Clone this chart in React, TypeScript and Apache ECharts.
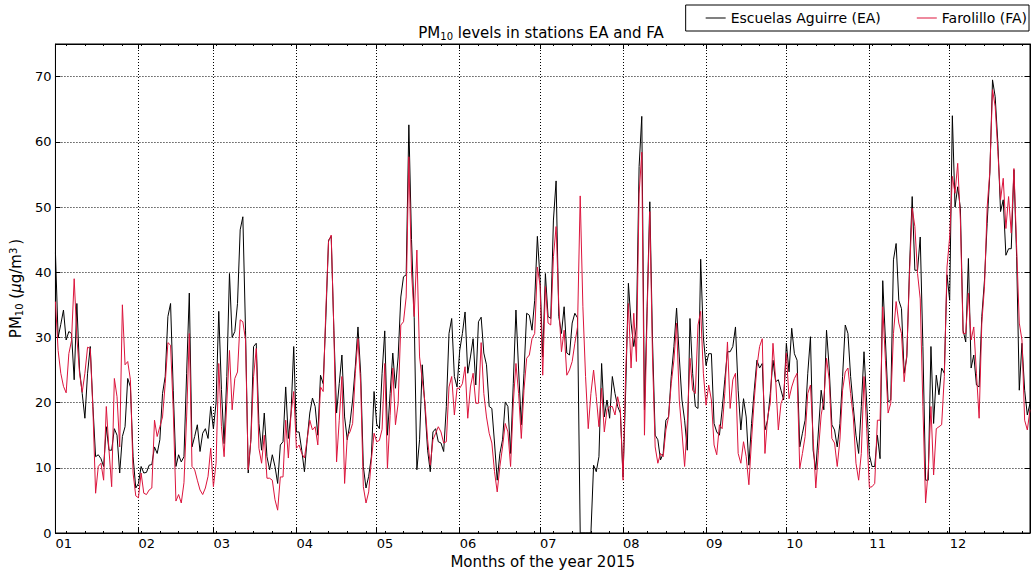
import React, { useEffect, useRef } from "react";
import * as echarts from "echarts";

// ---- data (daily PM10, µg/m3, year 2015) ----
const monthLabels = ["01", "02", "03", "04", "05", "06", "07", "08", "09", "10", "11", "12"];
const monthLengths = [31, 28, 31, 30, 31, 30, 31, 31, 30, 31, 30, 31];

const eaJan = [43, 30, 32, 34.2, 29.6, 30.9, 30.6, 23.5, 35.2, 25, 21.4, 17.6, 24.5, 28.6, 19.4, 11.7, 12, 11.4, 10.2, 16.3, 12.7, 12.7, 16, 15, 9.2, 14.8, 16.3, 23.7, 22.4, 11.7, 6.9];
const eaFeb = [7.6, 10.2, 9.2, 9.3, 10.4, 10.5, 13.2, 12.2, 14.3, 21.4, 24, 33.2, 35.2, 21.9, 10.2, 12, 10.9, 11.7, 24.5, 36.8, 13.2, 14.8, 16.6, 12.5, 15.3, 16, 14.5, 19.4];
const eaMar = [16, 20, 34, 22, 13.7, 24, 39.8, 30, 30.9, 35.2, 46.5, 48.5, 31, 9.2, 14.3, 28.6, 29.1, 16.8, 12.7, 18.4, 11.7, 9.7, 12, 10.2, 7.6, 13.5, 14, 22.4, 14.5, 18.4, 28.6];
const eaApr = [15.5, 15.5, 12.7, 9.4, 14.3, 18.4, 20.7, 19.4, 15, 24.2, 22.9, 33, 44.9, 45.5, 31, 18.4, 22.9, 27.3, 17.8, 14.3, 16.8, 20.4, 25.5, 31.6, 24.5, 10.2, 6.9, 8.7, 11.7, 21.7];
const eaMay = [16.7, 16, 24.5, 31, 15, 21.4, 27.6, 22.2, 27, 36.2, 39.3, 39.6, 62.6, 45, 33, 9.7, 14.3, 25.8, 19.4, 12.7, 9.4, 15.5, 16, 14, 13.8, 12.5, 19.4, 30.6, 32.9, 24, 22.4];
const eaJun = [28, 30.6, 33.9, 24.5, 27, 29.8, 22.7, 32.4, 33.1, 27.6, 25.8, 19.4, 19.1, 13.8, 8.1, 12.2, 14.3, 20.1, 19.4, 12.2, 22.9, 34.2, 25, 16.6, 24.5, 33.7, 33.4, 31.1, 35.7, 45.5];
const eaJul = [39, 27, 39.8, 33.2, 32.9, 48, 54, 33.2, 30.6, 34.7, 27.6, 27.3, 32.2, 33.7, 33, 0, 0, 0, 0, 0, 10.4, 9.4, 11.7, 26, 17.8, 20.4, 17.6, 24, 21.4, 19.4, 18.4];
const eaAug = [8.6, 22, 38.3, 32.2, 28.6, 31.6, 56.2, 63.9, 18.9, 34.7, 50.8, 29.6, 15, 14.3, 11.2, 12.2, 17.3, 17.8, 24, 28.6, 34.5, 27, 20.4, 17.3, 12.7, 32.9, 24.5, 19.4, 19.1, 42, 30];
const eaSep = [25.7, 27.5, 27.5, 16.8, 15.5, 15, 18.9, 23.5, 27.8, 27.8, 28.6, 31.6, 21.9, 15.8, 20.6, 17.8, 10.4, 16.8, 21.9, 26.5, 25.3, 26, 15.8, 17.3, 21.4, 26.5, 23.2, 23.5, 21.9, 20.4];
const eaOct = [29.1, 24.7, 31.4, 27.5, 26.5, 13.2, 15.3, 17.3, 24.5, 30.1, 12.7, 9.7, 15.8, 21.9, 18.9, 31.1, 25.3, 16.6, 15.8, 13.2, 16.8, 24, 31.9, 30.6, 24, 19.4, 15, 12.2, 19.4, 27.8, 20];
const eaNov = [12, 10.2, 10.2, 15, 11.4, 38.7, 29.6, 20.1, 20.4, 41.9, 44.4, 35.7, 34.4, 24.5, 27, 40.8, 51.6, 40.3, 40.3, 45.4, 28.6, 8.1, 8.1, 28.6, 16.8, 24.2, 21.2, 25.3, 24.5, 39.6];
const eaDec = [35.7, 64, 50, 53.1, 49.8, 31.1, 29.3, 42.1, 25.3, 27.3, 22.7, 22.4, 33.2, 38.8, 47.5, 55.2, 69.5, 66.9, 59.8, 49.3, 51.1, 42.6, 43.6, 43.6, 55.7, 42.4, 21.9, 29.1, 21.9, 18.1, 19.9];

const faJan = [35.5, 28, 24.5, 22.5, 21.5, 27.5, 29.5, 39, 30, 24.5, 21.6, 24.5, 28.5, 28.3, 18.9, 6.1, 10.2, 10.7, 8.1, 19.4, 12.7, 7.1, 23.7, 20.9, 13.2, 35, 25.8, 26.3, 23.5, 9.2, 5.7];
const faFeb = [5.4, 9.2, 6.1, 5.9, 6.6, 6.9, 17.3, 14.8, 16.3, 17.8, 22.9, 29.2, 28.8, 18.9, 4.9, 5.9, 4.6, 7.7, 17.8, 30.6, 10.2, 9.7, 8.1, 6.6, 5.9, 6.9, 8.7, 13];
const faMar = [7.1, 10.7, 26, 16.3, 11.7, 20, 28, 18.9, 23.7, 24.7, 32.7, 32.4, 29.6, 9.7, 14.3, 24, 28.3, 13, 10.7, 15, 8.4, 8.4, 8.1, 5.1, 3.5, 8.6, 8.6, 17.3, 11.5, 18.4, 21.7];
const faApr = [13, 13.5, 12.2, 11.5, 14.3, 17.3, 15.8, 16.3, 13.5, 22.4, 21.7, 34.2, 44.7, 45.7, 31, 10.9, 17.3, 24, 7.6, 14.8, 15.5, 16.8, 24.5, 29.8, 22.9, 7.1, 4.6, 6.3, 11.2, 15.3];
const faMay = [14, 14.2, 15.9, 26, 9.9, 18, 25.3, 16.6, 19.9, 31.9, 32.4, 36.2, 57.7, 40, 33.2, 43.4, 27, 23.5, 20.1, 14.3, 10.4, 14.3, 15.3, 16.3, 15.5, 13.8, 14, 22.4, 24, 18.1, 22.2];
const faJun = [22.2, 22.9, 25.5, 17.6, 22.4, 24.5, 19.9, 19.9, 29.2, 21.4, 17.8, 15.3, 13.8, 9.4, 6.3, 10.2, 13.2, 16.8, 15.5, 10.2, 19.9, 26, 21.4, 14.5, 21.9, 26.8, 27.3, 29.8, 30.6, 40.8];
const faJul = [38, 24.2, 37.8, 32.2, 31.9, 42.4, 47, 35, 27.8, 31.1, 24.2, 25, 26.3, 29.1, 31.6, 51.7, 34.7, 24, 16, 21.4, 25, 20.9, 16.3, 22.2, 15.5, 18.9, 19.4, 19.4, 18.1, 20.9, 18.9];
const faAug = [8.1, 25, 35.2, 25.3, 33.7, 26.3, 52, 58.4, 15, 33.7, 49.3, 27, 13.2, 10.7, 12.2, 11.7, 15.8, 17.8, 22.9, 26.5, 32.2, 20.4, 15.5, 10.2, 16.8, 26.8, 21.9, 21.4, 31.9, 34, 24.5];
const faSep = [19.6, 22.7, 20.4, 13.5, 12, 16.6, 16, 21.4, 29.3, 19.1, 23.5, 24.5, 12.2, 10.7, 14, 11.7, 7.4, 14.3, 20.4, 25.5, 28.6, 29.8, 12.2, 17.8, 19.9, 29.1, 23.5, 15.8, 19.9, 20.9];
const faOct = [27.6, 20.6, 22.4, 23.7, 24.5, 9.9, 12.2, 14.8, 21.4, 22.7, 14.5, 6.9, 12.7, 18.1, 20.4, 26.8, 23.5, 14.5, 13.8, 10.2, 14.3, 21.9, 24.7, 25.3, 21.4, 17.8, 10.7, 8.1, 12.2, 24, 16];
const faNov = [7, 7.1, 7.6, 17.3, 17.3, 34.7, 26.5, 18.4, 19.9, 30.6, 35.5, 32.2, 30.6, 23.2, 27.5, 39.8, 49.8, 47, 39.8, 35.9, 19.4, 4.6, 9.7, 19.4, 8.9, 16, 16.3, 16.6, 24, 40.8];
const faDec = [45.4, 54.7, 52.1, 56.7, 48, 30.6, 30.6, 36.8, 29.6, 31.6, 24.5, 17.6, 32.2, 37.8, 50, 55.4, 68, 65.4, 58.5, 51.1, 54.4, 46.7, 51.6, 46, 55.9, 43.9, 32.2, 29.6, 17.3, 15.8, 18.9];

const eaValues = [eaJan, eaFeb, eaMar, eaApr, eaMay, eaJun, eaJul, eaAug, eaSep, eaOct, eaNov, eaDec].flat();
const faValues = [faJan, faFeb, faMar, faApr, faMay, faJun, faJul, faAug, faSep, faOct, faNov, faDec].flat();

// category days "2015-MM-DD"
const days: string[] = [];
const monthStartIdx = new Set<number>();
monthLengths.forEach((len, m) => {
  monthStartIdx.add(days.length);
  for (let d = 1; d <= len; d++) {
    days.push(`2015-${monthLabels[m]}-${String(d).padStart(2, "0")}`);
  }
});
// weekly minor ticks (Mondays: 2015-01-05 is index 4)
const isMonday = (i: number) => i % 7 === 4;

const FONT = "DejaVu Sans";
const RED = "#dc143c";
const LEGEND_LINE = "path://M0,0 L20,0 L20,1 L0,1 Z";

export default function App() {
  const ref = useRef<HTMLDivElement>(null);
  useEffect(() => {
    document.body.style.margin = "0";
    const chart = echarts.init(ref.current!, undefined, { renderer: "svg" });
    const subRich = {
      sub: { fontSize: 10, fontFamily: FONT, color: "#000", verticalAlign: "bottom" as const, padding: [6, 0, 0, 0] },
      sup: { fontSize: 10, fontFamily: FONT, color: "#000", verticalAlign: "top" as const, padding: [0, 3, 6, 0] },
      it: { fontSize: 15, fontFamily: FONT, fontStyle: "italic" as const, color: "#000" },
    };
    const majorTickFn = (i: number) => monthStartIdx.has(i);
    const minorTickFn = (i: number) => isMonday(i) && !monthStartIdx.has(i);
    chart.setOption({
      animation: false,
      backgroundColor: "#fff",
      title: {
        text: "PM{sub|10} levels in stations EA and FA",
        left: 541,
        textAlign: "center",
        top: 25,
        padding: 0,
        textStyle: { fontSize: 15, fontWeight: "normal", color: "#000", fontFamily: FONT, rich: subRich },
      },
      legend: {
        data: [
          { name: "Escuelas Aguirre (EA)", icon: LEGEND_LINE },
          { name: "Farolillo (FA)", icon: LEGEND_LINE },
        ],
        right: 3,
        top: 5,
        padding: [5, 2, 5, 20],
        itemWidth: 20,
        itemHeight: 1.2,
        itemGap: 36,
        borderColor: "#000",
        borderWidth: 1,
        borderRadius: 0,
        backgroundColor: "#fff",
        textStyle: { fontSize: 14, color: "#000", fontFamily: FONT, lineHeight: 16 },
      },
      grid: { left: 52, right: 2, top: 44, bottom: 42, show: true, borderColor: "#000", borderWidth: 1, backgroundColor: "transparent" },
      xAxis: [
        {
          type: "category",
          data: days,
          boundaryGap: false,
          position: "bottom",
          name: "Months of the year 2015",
          nameLocation: "middle",
          nameGap: 20,
          nameTextStyle: { fontSize: 15, color: "#000", fontFamily: FONT },
          axisLine: { show: true, lineStyle: { color: "#000", width: 1 } },
          axisTick: { show: true, inside: true, length: 5, interval: majorTickFn, lineStyle: { color: "#000" } },
          axisLabel: {
            show: true,
            interval: majorTickFn,
            formatter: (v: string, i: number) => (monthStartIdx.has(i) ? v.slice(5, 7) : ""),
            align: "left",
            margin: 4,
            fontSize: 13,
            color: "#000",
            fontFamily: FONT,
          },
          splitLine: { show: true, interval: (i: number) => monthStartIdx.has(i) && i > 0, lineStyle: { color: "#000", type: [1, 2], width: 1 } },
        },
        {
          type: "category",
          data: days,
          boundaryGap: false,
          position: "bottom",
          axisLine: { show: false },
          axisTick: { show: true, inside: true, length: 2, interval: minorTickFn, lineStyle: { color: "#000" } },
          axisLabel: { show: false },
          splitLine: { show: false },
        },
        {
          type: "category",
          data: days,
          boundaryGap: false,
          position: "top",
          axisLine: { show: true, lineStyle: { color: "#000", width: 1 } },
          axisTick: { show: true, inside: true, length: 5, interval: majorTickFn, lineStyle: { color: "#000" } },
          axisLabel: { show: false },
          splitLine: { show: false },
        },
        {
          type: "category",
          data: days,
          boundaryGap: false,
          position: "top",
          axisLine: { show: false },
          axisTick: { show: true, inside: true, length: 2, interval: minorTickFn, lineStyle: { color: "#000" } },
          axisLabel: { show: false },
          splitLine: { show: false },
        },
      ],
      yAxis: [
        {
          type: "value",
          min: 0,
          max: 75,
          interval: 10,
          position: "left",
          name: "PM{sub|10} ({it|μ}g/m{sup|3})",
          nameLocation: "middle",
          nameGap: 26,
          nameTextStyle: { fontSize: 15, color: "#000", fontFamily: FONT, rich: subRich },
          axisLine: { show: true, lineStyle: { color: "#000", width: 1 } },
          axisTick: { show: true, inside: true, length: 5, lineStyle: { color: "#000" } },
          axisLabel: { fontSize: 13, color: "#000", fontFamily: FONT, margin: 4, showMaxLabel: false },
          splitLine: { show: true, lineStyle: { color: "#000", type: [1, 2], width: 1 } },
        },
        {
          type: "value",
          min: 0,
          max: 75,
          interval: 10,
          position: "right",
          axisLine: { show: true, lineStyle: { color: "#000", width: 1 } },
          axisTick: { show: true, inside: true, length: 5, lineStyle: { color: "#000" } },
          axisLabel: { show: false },
          splitLine: { show: false },
        },
      ],
      series: [
        {
          name: "Escuelas Aguirre (EA)",
          type: "line",
          data: eaValues,
          xAxisIndex: 0,
          yAxisIndex: 0,
          symbol: "none",
          clip: true,
          color: "#000",
          lineStyle: { color: "#000", width: 1 },
        },
        {
          name: "Farolillo (FA)",
          type: "line",
          data: faValues,
          xAxisIndex: 0,
          yAxisIndex: 0,
          symbol: "none",
          clip: true,
          color: RED,
          lineStyle: { color: RED, width: 1 },
        },
      ],
    });
    return () => chart.dispose();
  }, []);
  return <div ref={ref} style={{ width: 1032, height: 575 }} />;
}
